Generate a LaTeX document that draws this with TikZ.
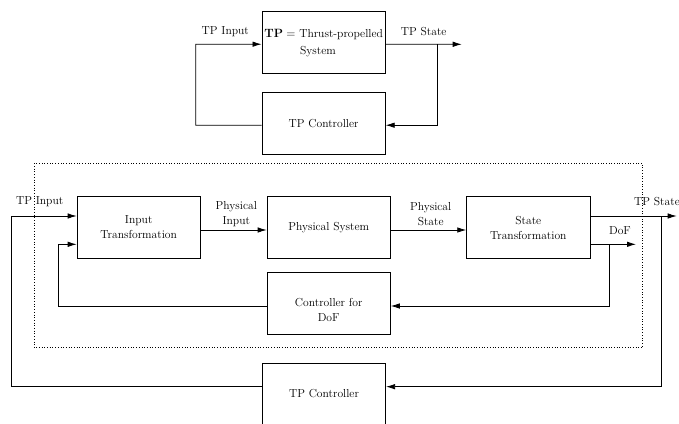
\documentclass[tikz,border=0pt]{standalone}
\usetikzlibrary{arrows.meta,calc}
\begin{document}
\begin{tikzpicture}[x=1pt,y=-1pt,
  txt/.style={font=\fontsize{11.6}{15}\selectfont, inner sep=0pt, align=center},
  blk/.style={draw, line width=0.8pt, rectangle, minimum width=123.3pt, minimum height=61.5pt, inner sep=0pt, font=\fontsize{11.6}{15}\selectfont, align=center},
  arr/.style={line width=0.8pt, -{Latex[length=9pt,width=5.5pt]}},
  ln/.style={line width=0.8pt}
]
\useasboundingbox (0,0) rectangle (679,423);

% ---------- top loop ----------
\node[blk] (tp) at (323.6,42.2) {};
\node[txt] (tpt1) at (323.7,34.3) {$\mathbf{TP} =$ Thrust-propelled};
\node[txt] (tpt2) at (318,51.7) {System};
\node[blk] (tpc1) at (323.6,123.2) {TP Controller};

\coordinate (tpinL) at (195.7,44.3);
\coordinate (tpout) at (461.7,44.3);
\coordinate (tpfb) at (437.7,44.3);
\draw[arr] ($(tpc1.west)+(0,2)$) -| (tpinL) -- ($(tp.west)+(0,2)$);
\draw[arr] ($(tp.east)+(0,2)$) -- (tpout);
\draw[arr] (tpfb) |- ($(tpc1.east)+(0,2)$);
\node[txt] (lin1) at (225.3,31.7) {TP Input};
\node[txt] (lout1) at (423.7,31.7) {TP State};

% ---------- bottom diagram ----------
\draw[dotted, line width=0.7pt] (34.3,163.3) rectangle (642.3,347.7);

\node[blk] (it) at (138.7,227.5) {Input\\Transformation};
\node[blk] (ps) at (328.7,227.5) {Physical System};
\node[blk] (st) at (528.3,227.5) {State\\Transformation};
\node[blk] (cd) at (328.7,303.3) {};
\node[txt] (cdt) at (328.7,309.7) {Controller for\\DoF};
\node[blk] (tpc2) at (324,394) {TP Controller};

\coordinate (inL) at (11,216);
\coordinate (fbL) at (58.3,244.3);
\coordinate (outR) at (676.7,216);
\coordinate (outV) at (661,216);
\coordinate (dofR) at (636,244.3);
\coordinate (dofV) at (609,244.3);

\draw[arr] ($(tpc2.west)+(0,-7.3)$) -| (inL) -- ($(it.west)+(0,-11.5)$);
\draw[arr] ($(cd.west)+(0,2.7)$) -| (fbL) -- ($(it.west)+(0,16.8)$);
\draw[arr] ($(it.east)+(0,2.5)$) -- ($(ps.west)+(0,2.5)$);
\draw[arr] ($(ps.east)+(0,2.5)$) -- ($(st.west)+(0,2.5)$);
\draw[arr] ($(st.east)+(0,-11.5)$) -- (outR);
\draw[arr] (outV) |- ($(tpc2.east)+(0,-7.3)$);
\draw[arr] ($(st.east)+(0,16.8)$) -- (dofR);
\draw[arr] (dofV) |- ($(cd.east)+(0,2.7)$);

\node[txt] (lin2) at (39.7,202) {TP Input};
\node[txt] (lout2) at (657,202) {TP State};
\node[txt] (lpi) at (236.3,214) {Physical\\Input};
\node[txt] (lps) at (430.7,214) {Physical\\State};
\node[txt] (ldof) at (620,231) {DoF};
\end{tikzpicture}
\end{document}
